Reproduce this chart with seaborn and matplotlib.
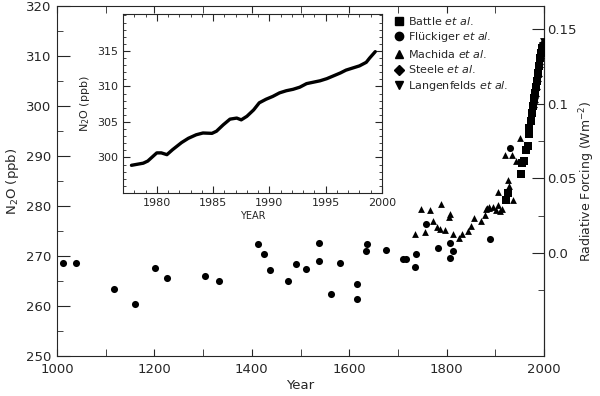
import matplotlib
matplotlib.use("Agg")
import matplotlib.pyplot as plt
from matplotlib.ticker import MultipleLocator, FixedLocator
from matplotlib.lines import Line2D
import seaborn as sns
import pandas as pd

sns.set_style("ticks")
plt.rcParams['font.family'] = ['DejaVu Sans']
plt.rcParams['mathtext.fontset'] = 'dejavusans'

# ---------------- data ----------------
fluckiger_year = [1013, 1039, 1117, 1160, 1201, 1226, 1304, 1332, 1412, 1425, 1438, 1474,
                  1490, 1512, 1537, 1538, 1563, 1581, 1615, 1615, 1634, 1637, 1676, 1711,
                  1717, 1736, 1738, 1758, 1783, 1806, 1807, 1814, 1890, 1931]
fluckiger_ppb = [268.6, 268.6, 263.3, 260.3, 267.6, 265.6, 266.0, 265.0, 272.4, 270.4, 267.1, 265.0,
                 268.3, 267.3, 272.5, 269.0, 262.3, 268.5, 264.4, 261.4, 271.0, 272.4, 271.1, 269.3,
                 269.3, 267.7, 270.3, 276.4, 271.5, 269.6, 272.6, 271.0, 273.3, 291.5]

machida_year = [1735, 1747, 1765, 1789, 1756, 1772, 1807, 1805, 1781, 1786, 1796, 1813, 1825,
                1831, 1844, 1851, 1857, 1870, 1878, 1881, 1883, 1887, 1888, 1895, 1901, 1905,
                1910, 1914, 1905, 1919, 1926, 1929, 1934, 1937, 1942, 1950]
machida_ppb = [274.3, 279.3, 279.2, 280.3, 274.8, 277.0, 278.3, 277.7, 275.8, 275.4, 275.2, 274.4, 273.6,
               274.3, 275.0, 275.9, 277.6, 277.0, 278.1, 279.4, 279.5, 279.5, 279.7, 279.7, 279.2, 280.1,
               278.9, 279.4, 282.8, 290.2, 285.1, 284.0, 290.1, 281.2, 288.9, 293.5]

battle_year = [1921, 1926, 1953, 1955, 1958, 1963, 1967, 1969, 1970, 1973, 1975, 1977, 1979,
               1981, 1983, 1985, 1987, 1989, 1991, 1993, 1995]
battle_ppb = [281.2, 282.5, 286.4, 288.5, 289.0, 291.2, 291.9, 294.3, 295.5, 297.0, 298.5, 300.0, 301.5,
              302.5, 303.8, 305.0, 306.5, 308.0, 309.5, 310.5, 311.5]

steele_year = [1978, 1980, 1982, 1984, 1986, 1988, 1990, 1992, 1994, 1996, 1997]
steele_ppb = [299.8, 300.8, 302.0, 303.4, 305.0, 306.0, 308.3, 309.6, 310.6, 311.8, 312.6]

langenfelds_year = [1978, 1981, 1984, 1987, 1990, 1993, 1996, 1997]
langenfelds_ppb = [299.5, 301.0, 303.3, 305.3, 308.0, 310.2, 312.2, 312.9]

inset_year = [1977.75, 1978.8, 1979.2, 1980.0, 1980.4, 1980.9, 1981.4, 1982.2, 1982.8, 1983.5,
              1984.1, 1984.9, 1985.3, 1985.9, 1986.5, 1987.1, 1987.5, 1988.0, 1988.6, 1989.1,
              1989.7, 1990.3, 1990.9, 1991.5, 1992.1, 1992.7, 1993.3, 1993.9, 1994.5, 1995.1,
              1995.7, 1996.3, 1996.8, 1997.4, 1998.0, 1998.6, 1998.9, 1999.4]
inset_ppb = [298.9, 299.2, 299.5, 300.65, 300.65, 300.4, 301.1, 302.1, 302.7, 303.2,
             303.45, 303.4, 303.7, 304.6, 305.4, 305.55, 305.3, 305.8, 306.7, 307.7,
             308.2, 308.6, 309.1, 309.4, 309.6, 309.9, 310.4, 310.6, 310.8, 311.1,
             311.5, 311.9, 312.3, 312.6, 312.9, 313.4, 314.0, 314.9]

sources = ["Battle", "Flückiger", "Machida", "Steele", "Langenfelds"]
years = [battle_year, fluckiger_year, machida_year, steele_year, langenfelds_year]
values = [battle_ppb, fluckiger_ppb, machida_ppb, steele_ppb, langenfelds_ppb]

df = pd.concat([pd.DataFrame({"Year": y, "N2O": v, "Source": s})
                for s, y, v in zip(sources, years, values)], ignore_index=True)
inset_df = pd.DataFrame({"Year": inset_year, "N2O": inset_ppb})

markers = {"Battle": "s", "Flückiger": "o", "Machida": "^", "Steele": "D", "Langenfelds": "v"}
sizes_pt = {"Battle": 26, "Flückiger": 26, "Machida": 24, "Steele": 20, "Langenfelds": 24}

FS = 9.5

# ---------------- figure ----------------
fig = plt.figure(figsize=(6.0, 3.96), dpi=100)
ax = fig.add_axes([0.095, 0.101, 0.8117, 0.884])

for s in sources:
    sub = df[df["Source"] == s]
    sns.scatterplot(data=sub, x="Year", y="N2O", marker=markers[s], color="black",
                    s=sizes_pt[s], edgecolor="black", linewidth=0, ax=ax, legend=False, zorder=3)

ax.set_xlim(1000, 2000)
ax.set_ylim(250, 320)
ax.xaxis.set_major_locator(MultipleLocator(200))
ax.xaxis.set_minor_locator(MultipleLocator(100))
ax.yaxis.set_major_locator(MultipleLocator(10))
ax.yaxis.set_minor_locator(MultipleLocator(5))
ax.tick_params(axis='x', which='major', direction='in', length=5, top=True, labelsize=FS, pad=5)
ax.tick_params(axis='x', which='minor', direction='in', length=5, top=True)
ax.tick_params(axis='y', which='major', direction='in', length=9, right=False, labelsize=FS, pad=4)
ax.tick_params(axis='y', which='minor', direction='in', length=4, right=False)
ax.set_xlabel("Year", fontsize=FS, labelpad=2)
ax.set_ylabel("N$_2$O (ppb)", fontsize=FS, labelpad=4)
for sp in ax.spines.values():
    sp.set_linewidth(0.8)

sec = ax.secondary_yaxis('right', functions=(lambda n: (n - 270.6) / 298.0,
                                             lambda r: r * 298.0 + 270.6))
sec.yaxis.set_major_locator(FixedLocator([0.0, 0.05, 0.1, 0.15]))
sec.yaxis.set_minor_locator(FixedLocator([-0.025, 0.025, 0.075, 0.125]))
sec.set_yticklabels(["0.0", "0.05", "0.1", "0.15"])
sec.tick_params(which='major', direction='in', length=9, labelsize=FS, pad=2)
sec.tick_params(which='minor', direction='in', length=4)
sec.set_ylabel("Radiative Forcing (Wm$^{-2}$)", fontsize=9, labelpad=1)

# legend
handles = [Line2D([], [], marker=markers[s], color='black', linestyle='none',
                  markersize=6 if s != "Steele" else 5) for s in sources]
labels = [f"{s} $\\it{{et\\ al.}}$" for s in sources]
ax.legend(handles, labels, loc='upper left', bbox_to_anchor=(0.67, 1.0), frameon=False,
          fontsize=8, handletextpad=0.2, labelspacing=0.32, borderaxespad=0.4,
          handlelength=1.2)

# inset
ins = fig.add_axes([0.205, 0.5126, 0.4317, 0.452])
sns.lineplot(data=inset_df, x="Year", y="N2O", color="black", linewidth=2.4, ax=ins)
ins.set_xlim(1977, 2000)
ins.set_ylim(295, 320.2)
ins.xaxis.set_major_locator(MultipleLocator(5))
ins.xaxis.set_minor_locator(MultipleLocator(1))
ins.yaxis.set_major_locator(FixedLocator([300, 305, 310, 315]))
ins.yaxis.set_minor_locator(MultipleLocator(1))
ins.tick_params(which='major', direction='in', length=5, top=True, right=True, labelsize=8)
ins.tick_params(which='minor', direction='in', length=2.5, top=True, right=True)
ins.set_xlabel("YEAR", fontsize=7, labelpad=2)
ins.set_ylabel("N$_2$O (ppb)", fontsize=8, labelpad=4)
for sp in ins.spines.values():
    sp.set_linewidth(0.8)

fig.savefig("out.png", dpi=100)
